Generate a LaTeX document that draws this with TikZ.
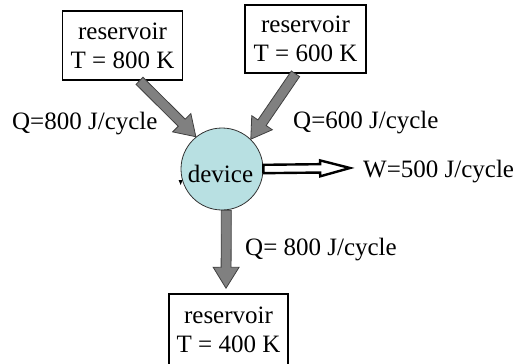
\documentclass[tikz,border=0pt]{standalone}
\usepackage{fontspec}
\setmainfont{Liberation Serif}
\usetikzlibrary{calc}
\definecolor{devfill}{RGB}{184,224,226}
\definecolor{arrowgray}{RGB}{128,128,128}
\newcommand\polyarrow[6]{%
  \path[#1] let \p1=(#2), \p2=(#3),
    \n1={atan2(\y2-\y1,\x2-\x1)}, \n2={veclen(\x2-\x1,\y2-\y1)} in
    [shift={(\p1)}, rotate=\n1]
    (0pt,-#4) -- (\n2-#6,-#4) -- (\n2-#6,-#5) -- (\n2,0pt) --
    (\n2-#6,#5) -- (\n2-#6,#4) -- (0pt,#4) -- cycle;}
\tikzset{
  resbox/.style={draw=black, line width=1.6bp, fill=white, align=center,
    inner sep=0pt},
  device/.style={circle, draw=black!80, line width=0.8bp, fill=devfill,
    minimum size=82bp, inner sep=0pt},
  heatarrow/.style={draw=black!75, line width=0.8bp, fill=arrowgray},
  workarrow/.style={draw=black, line width=2.4bp, fill=white, line join=miter},
  lbl/.style={inner sep=0pt, anchor=base west},
}
\begin{document}
\begin{tikzpicture}[x=1bp, y=1bp, font=\fontsize{25bp}{29bp}\selectfont]
\useasboundingbox (0,0) rectangle (517,363);
\clip (0,0) rectangle (517,363);
% reservoirs
\node[resbox, minimum width=120bp, minimum height=69bp] (r1) at (122.5,317.5) {reservoir\\T = 800 K};
\node[resbox, minimum width=121bp, minimum height=68bp] (r2) at (305.5,324) {reservoir\\T = 600 K};
\node[resbox, minimum width=119bp, minimum height=71bp] (r3) at (228.5,33.5) {reservoir\\T = 400 K};
% device
\node[device] (dev) at (222,194) {};
\node[inner sep=0pt, anchor=base] (devtxt) at (220.5,181) {device};
% coordinates for connector ends
\coordinate (a1s) at ([xshift=17bp]r1.south);
\coordinate (a2s) at ([xshift=-10bp]r2.south);
\coordinate (a3e) at ([yshift=5bp, xshift=-2.5bp]r3.north);
\coordinate (wend) at (350,195);
% heat arrows
\polyarrow{heatarrow}{a1s}{dev.129}{5pt}{13pt}{20pt}
\polyarrow{heatarrow}{a2s}{dev.46}{5pt}{12.5pt}{20pt}
\polyarrow{heatarrow}{dev.-84}{a3e}{5pt}{13pt}{21pt}
% work arrow
\polyarrow{workarrow}{dev.east}{wend}{4.2pt}{8pt}{30pt}
% small mark on circle
\fill[black] ([shift={(-2,-11)}]dev.west) -- ([shift={(2,-11)}]dev.west) -- ([shift={(0,-16)}]dev.west) -- cycle;
% labels
\node[lbl] (q1) at (12,234) {Q=800 J/cycle};
\node[lbl] (q2) at (293,235) {Q=600 J/cycle};
\node[lbl] (w) at (363,186) {W=500 J/cycle};
\node[lbl] (q3) at (245,108) {Q= 800 J/cycle};
\end{tikzpicture}
\end{document}
